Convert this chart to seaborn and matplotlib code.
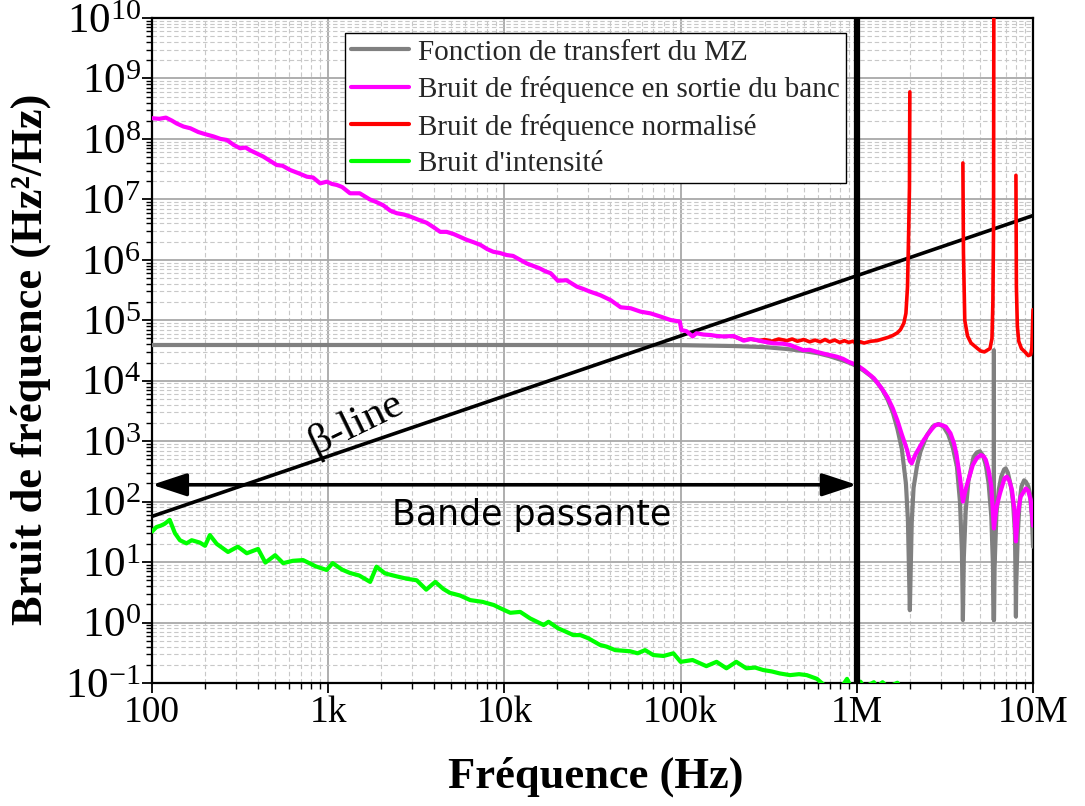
import numpy as np
import pandas as pd
import matplotlib
matplotlib.use('Agg')
import matplotlib.pyplot as plt
import seaborn as sns
from matplotlib.lines import Line2D
from matplotlib.ticker import FixedLocator, FixedFormatter, LogLocator, NullFormatter

# ---------------- data ----------------
x_ticks = [1e2, 1e3, 1e4, 1e5, 1e6, 1e7]
x_ticklabels = ["100", "1k", "10k", "100k", "1M", "10M"]
y_exponents = list(range(-1, 11))

legend_labels = ["Fonction de transfert du MZ",
                 "Bruit de fréquence en sortie du banc",
                 "Bruit de fréquence normalisé",
                 "Bruit d'intensité"]

# Fonction de transfert du MZ (gray)
gray_f = [100, 1e3, 1e4, 1e5, 2e5, 3e5, 4e5, 5e5, 6e5, 7e5, 8e5, 9e5, 1.0e6, 1.1e6, 1.2e6,
          1.3e6, 1.4e6, 1.5e6, 1.6e6, 1.7e6, 1.8e6, 1.9e6, 1.95e6, 2.0e6, 2.05e6, 2.1e6, 2.2e6,
          2.3e6, 2.5e6, 2.7e6, 2.9e6, 3.1e6, 3.3e6, 3.5e6, 3.7e6, 3.85e6, 3.95e6, 4.0e6, 4.05e6,
          4.15e6, 4.3e6, 4.6e6, 4.8e6, 5.0e6, 5.2e6, 5.4e6, 5.6e6, 5.8e6, 5.95e6, 5.995e6, 6.0e6,
          6.005e6, 6.05e6, 6.2e6, 6.4e6, 6.6e6, 6.85e6, 7.0e6, 7.2e6, 7.5e6, 7.7e6, 7.9e6, 7.97e6,
          8.0e6, 8.03e6, 8.2e6, 8.4e6, 8.6e6, 8.9e6, 9.1e6, 9.4e6, 9.6e6, 9.85e6, 1.0e7]
gray_v = [3.9e4, 3.9e4, 3.9e4, 3.88e4, 3.75e4, 3.6e4, 3.35e4, 3.1e4, 2.85e4, 2.55e4, 2.25e4, 2.0e4,
          1.75e4, 1.45e4, 1.2e4, 9.5e3, 7e3, 4.8e3, 3.0e3, 1.6e3, 750, 200, 50, 1.6, 45, 170, 400,
          680, 1.25e3, 1.75e3, 1.92e3, 1.75e3, 1.3e3, 800, 380, 100, 15, 1.1, 12, 70, 220, 550,
          650, 680, 580, 400, 200, 56, 6, 1.1, 3.2e4, 1.1, 8, 63, 160, 258, 340, 355, 300, 178,
          100, 30, 4, 1.25, 4, 30, 100, 178, 225, 214, 180, 138, 60, 18]

# Bruit de fréquence en sortie du banc (magenta)
mag_f = [100, 110, 120, 130, 138, 151, 165, 183, 200, 223, 245, 266, 290, 316, 340, 360, 390,
         428, 470, 510, 550, 608, 680, 757, 820, 900, 983, 1050, 1120, 1200, 1330, 1510, 1720,
         1880, 2050, 2250, 2450, 2700, 2920, 3250, 3620, 4000, 4320, 4700, 5150, 5600, 6140,
         6700, 7320, 8000, 8640, 9400, 10300, 11200, 12300, 13400, 14600, 15900, 17000, 18300,
         20100, 22500, 25800, 28000, 30800, 35000, 40000, 45700, 52100, 59200, 67500, 77000,
         87700, 99000, 101000, 108000, 117000, 123000, 135000, 148000, 160000, 176000, 200000,
         228000, 250000, 270000, 300000, 337000, 380000, 418000, 460000, 497000, 540000,
         593000, 650000, 703000, 770000, 836000, 900000, 1.0e6, 1.1e6, 1.25e6, 1.37e6, 1.49e6,
         1.6e6, 1.7e6, 1.8e6, 1.93e6, 2.0e6, 2.05e6, 2.15e6, 2.28e6, 2.4e6, 2.51e6, 2.65e6,
         2.79e6, 2.95e6, 3.2e6, 3.4e6, 3.55e6, 3.67e6, 3.85e6, 4.0e6, 4.15e6, 4.3e6, 4.55e6,
         4.8e6, 5.06e6, 5.25e6, 5.4e6, 5.6e6, 5.8e6, 6.0e6, 6.2e6, 6.5e6, 6.9e6, 7.1e6, 7.35e6,
         7.6e6, 7.85e6, 8.0e6, 8.2e6, 8.5e6, 9.1e6, 9.4e6, 9.7e6, 1.0e7]
mag_v = [2.2e8, 2.15e8, 2.25e8, 2.0e8, 1.8e8, 1.6e8, 1.5e8, 1.3e8, 1.2e8, 1.1e8, 1.0e8, 9.6e7,
         8.0e7, 7.0e7, 7.2e7, 6.5e7, 5.8e7, 5.1e7, 4.3e7, 3.7e7, 3.6e7, 3.06e7, 2.7e7, 2.37e7,
         2.3e7, 1.84e7, 1.96e7, 1.8e7, 1.73e7, 1.6e7, 1.26e7, 1.26e7, 1.0e7, 9.0e6, 8.0e6,
         6.5e6, 5.9e6, 5.6e6, 5.2e6, 4.6e6, 4.1e6, 3.4e6, 2.9e6, 2.9e6, 2.67e6, 2.4e6, 2.13e6,
         1.95e6, 1.76e6, 1.5e6, 1.36e6, 1.3e6, 1.2e6, 1.16e6, 1.0e6, 8.7e5, 7.9e5, 7.2e5,
         6.5e5, 6.0e5, 4.5e5, 4.6e5, 3.6e5, 3.3e5, 2.96e5, 2.6e5, 2.16e5, 1.64e5, 1.58e5,
         1.39e5, 1.30e5, 1.15e5, 1.01e5, 9.5e4, 6.9e4, 6.6e4, 5.4e4, 6.1e4, 5.8e4, 5.7e4, 5.5e4,
         5.4e4, 5.5e4, 4.6e4, 4.9e4, 4.7e4, 4.4e4, 4.15e4, 4.1e4, 3.9e4, 3.5e4, 3.2e4, 3.25e4,
         3.0e4, 2.8e4, 2.66e4, 2.5e4, 2.3e4, 2.05e4, 1.82e4, 1.5e4, 1.1e4, 7.8e3, 5.4e3, 3.5e3,
         2.2e3, 1.3e3, 715, 470, 430, 600, 810, 1.05e3, 1.26e3, 1.55e3, 1.85e3, 1.9e3, 1.74e3,
         1.35e3, 950, 630, 250, 100, 160, 230, 400, 525, 590, 560, 490, 330, 178, 36, 80, 138,
         245, 258, 220, 155, 70, 22, 60, 120, 165, 150, 107, 40]

# Bruit de fréquence normalisé (red) -- NaN separates drawn pieces
nan = float('nan')
red_f = [200000, 228000, 250000, 280000, 300000, 330000, 360000, 400000, 430000, 460000,
         500000, 540000, 580000, 620000, 660000, 700000, 750000, 800000, 850000, 900000,
         950000, 1.0e6, 1.05e6, 1.1e6, 1.2e6, 1.3e6, 1.4e6, 1.5e6, 1.6e6, 1.7e6, 1.77e6,
         1.85e6, 1.9e6, 1.94e6, 1.97e6, 1.99e6, 2.0e6, nan,
         4.0e6, 4.03e6, 4.1e6, 4.25e6, 4.45e6, 4.85e6, 5.05e6, 5.3e6, 5.5e6, 5.7e6, 5.85e6,
         5.92e6, 5.97e6, 6.0e6, nan,
         8.0e6, 8.05e6, 8.15e6, 8.3e6, 8.6e6, 9.0e6, 9.4e6, 9.7e6, 9.85e6, 1.0e7]
red_v = [5.4e4, 4.7e4, 4.9e4, 4.6e4, 4.8e4, 4.5e4, 4.9e4, 4.6e4, 4.9e4, 4.5e4, 4.8e4, 4.4e4,
         4.7e4, 4.4e4, 4.8e4, 4.4e4, 4.7e4, 4.3e4, 4.6e4, 4.3e4, 4.5e4, 4.1e4, 4.4e4, 4.2e4,
         4.5e4, 4.6e4, 4.9e4, 5.2e4, 5.6e4, 6.2e4, 7.0e4, 9.0e4, 1.3e5, 3.6e5, 3e6, 1.6e7,
         6e8, nan,
         4.0e7, 1.3e6, 1e5, 5.5e4, 4.2e4, 3.4e4, 3.1e4, 3.0e4, 3.2e4, 3.4e4, 5.0e4, 2e5, 3e6,
         1e11, nan,
         2.5e7, 3.6e5, 8e4, 4.5e4, 3.4e4, 3.0e4, 2.6e4, 2.7e4, 3.5e4, 1.5e5]

# Bruit d'intensité (green)
green_f = [100, 106, 112, 118, 126, 135, 144, 157, 168, 187, 200, 213, 233, 270, 307, 345, 400,
           440, 500, 555, 630, 720, 850, 980, 1060, 1200, 1330, 1500, 1730, 1880, 2100, 2450,
           2800, 3180, 3600, 4050, 4500, 4900, 5600, 6400, 7500, 8700, 9500, 10800, 12300,
           14000, 16700, 17800, 20200, 22000, 24600, 27000, 29900, 34900, 38000, 42500, 51600,
           57000, 62800, 70000, 80000, 91000, 100000, 117000, 140000, 160000, 182000, 207000,
           236000, 265000, 294000, 330000, 365000, 418000, 470000, 520000, 595000, 620000,
           660000, 750000, 840000, 880000, 920000, 1.0e6, 1.05e6, 1.1e6, 1.25e6, 1.3e6, 1.4e6,
           1.5e6, 1.7e6, 1.8e6]
green_v = [32, 38, 40, 43, 50, 30, 23, 20.4, 23, 21, 18.6, 28, 20, 14.7, 18, 14, 16.5, 9.8, 13,
           9.6, 10.5, 10.8, 8.5, 7.4, 9.6, 7.5, 6.6, 6.0, 4.7, 8.4, 6.5, 5.8, 5.3, 5.0, 3.5, 4.7,
           3.6, 3.1, 2.8, 2.35, 2.2, 1.95, 1.72, 1.45, 1.5, 1.17, 0.91, 1.03, 0.80, 0.72, 0.62,
           0.62, 0.55, 0.426, 0.40, 0.35, 0.335, 0.31, 0.35, 0.29, 0.28, 0.31, 0.224, 0.24,
           0.19, 0.224, 0.175, 0.224, 0.175, 0.18, 0.164, 0.155, 0.144, 0.135, 0.14, 0.135,
           0.117, 0.105, 0.09, 0.085, 0.095, 0.117, 0.09, 0.08, 0.105, 0.085, 0.103, 0.085,
           0.103, 0.085, 0.101, 0.08]

# beta-line (two end points)
beta_f = [100, 1e7]
beta_v = [57, 5.4e6]

arrow_y = 190
cutoff_f = 1e6

colors = {"gray": "#808080", "mag": "#ff00ff", "red": "#ff0000", "green": "#00ff00"}

# ---------------- style ----------------
sns.set_theme(style="white")
plt.rcParams['font.family'] = ['Liberation Serif', 'DejaVu Serif']
plt.rcParams['mathtext.fontset'] = 'custom'
plt.rcParams['mathtext.rm'] = 'Liberation Serif'
plt.rcParams['mathtext.it'] = 'Liberation Serif:italic'
plt.rcParams['mathtext.bf'] = 'Liberation Serif:bold'


def frame(f, v):
    df = pd.DataFrame({"f": f, "v": v})
    df["seg"] = df["v"].isna().cumsum()
    return df.dropna()


fig = plt.figure(figsize=(10.85, 8.06), dpi=100)
ax = fig.add_axes([152 / 1085, 1 - 683 / 806, 881 / 1085, 665 / 806])
ax.set_xscale('log')
ax.set_yscale('log')

sns.lineplot(data=frame(gray_f, gray_v), x="f", y="v", units="seg", estimator=None,
             color=colors["gray"], lw=3, ax=ax, legend=False, sort=False, zorder=3)
sns.lineplot(data=frame(beta_f, beta_v), x="f", y="v", estimator=None,
             color="black", lw=2.6, ax=ax, legend=False, zorder=3.5)
sns.lineplot(data=frame(red_f, red_v), x="f", y="v", units="seg", estimator=None,
             color=colors["red"], lw=2.6, ax=ax, legend=False, sort=False, zorder=4)
sns.lineplot(data=frame(mag_f, mag_v), x="f", y="v", estimator=None,
             color=colors["mag"], lw=3, ax=ax, legend=False, sort=False, zorder=5)
sns.lineplot(data=frame(green_f, green_v), x="f", y="v", estimator=None,
             color=colors["green"], lw=3, ax=ax, legend=False, sort=False, zorder=5)

ax.axvline(cutoff_f, color="black", lw=4.5, zorder=6)

ax.annotate("", xy=(cutoff_f, arrow_y), xytext=(100, arrow_y),
            arrowprops=dict(arrowstyle="<|-|>,head_length=0.85,head_width=0.28",
                            lw=2.6, color="black", shrinkA=0, shrinkB=0,
                            mutation_scale=25), zorder=6)

ax.text(1.42e4, 60, "Bande passante", fontsize=25, family="DejaVu Sans",
        ha="center", va="center", color="black", zorder=7)
ax.text(1430, 2000, "β-line", fontsize=31, family="Liberation Serif", rotation=26,
        ha="center", va="center", color="black", zorder=7)

ax.set_xlim(100, 1e7)
ax.set_ylim(1e-1, 1e10)

ax.xaxis.set_major_locator(FixedLocator(x_ticks))
ax.xaxis.set_major_formatter(FixedFormatter(x_ticklabels))
ax.xaxis.set_minor_locator(LogLocator(base=10, subs=np.arange(2, 10), numticks=100))
ax.xaxis.set_minor_formatter(NullFormatter())
y_ticks = [10.0 ** e for e in y_exponents]
ax.yaxis.set_major_locator(FixedLocator(y_ticks))
ax.yaxis.set_major_formatter(FixedFormatter([r"$\mathregular{10^{%d}}$" % e for e in y_exponents]))
ax.yaxis.set_minor_locator(LogLocator(base=10, subs=np.arange(2, 10), numticks=100))
ax.yaxis.set_minor_formatter(NullFormatter())

ax.grid(which="major", color="#a8a8a8", lw=1.3, ls="-")
ax.grid(which="minor", color="#c8c8c8", lw=0.8, ls=(0, (4, 2.5)))
ax.set_axisbelow(True)

for s in ax.spines.values():
    s.set_visible(True)
    s.set_color("black")
    s.set_linewidth(1.6)

ax.tick_params(which="both", direction="out", color="black", bottom=True, left=True,
               top=False, right=False)
ax.tick_params(which="major", length=7, width=1.3, pad=2)
ax.tick_params(which="minor", length=4, width=1.0)
ax.tick_params(axis="x", which="major", labelsize=27)
ax.tick_params(axis="y", which="major", labelsize=31, pad=1)
for lab in ax.get_xticklabels() + ax.get_yticklabels():
    lab.set_family("Liberation Serif")
    lab.set_color("black")

ax.set_xlabel("Fréquence (Hz)", fontsize=32, fontweight="bold", family="Liberation Serif",
              color="black")
ax.set_ylabel("Bruit de fréquence (Hz²/Hz)", fontsize=32, fontweight="bold",
              family="Liberation Serif", color="black")
ax.xaxis.set_label_coords(0.504, -0.11)
ax.yaxis.set_label_coords(-0.115, 0.486)

handles = [Line2D([], [], color=colors[k], lw=3) for k in ["gray", "mag", "red", "green"]]
leg = ax.legend(handles, legend_labels, loc="upper left", bbox_to_anchor=(0.219, 0.977),
                fontsize=21, frameon=True, fancybox=False, edgecolor="black", framealpha=1,
                handlelength=2.0, handletextpad=0.3, borderpad=0.2, labelspacing=0.36,
                borderaxespad=0)
leg.get_frame().set_linewidth(1.0)
leg.set_zorder(10)
for t in leg.get_texts():
    t.set_family("Liberation Serif")

fig.savefig("out.png", dpi=100)
